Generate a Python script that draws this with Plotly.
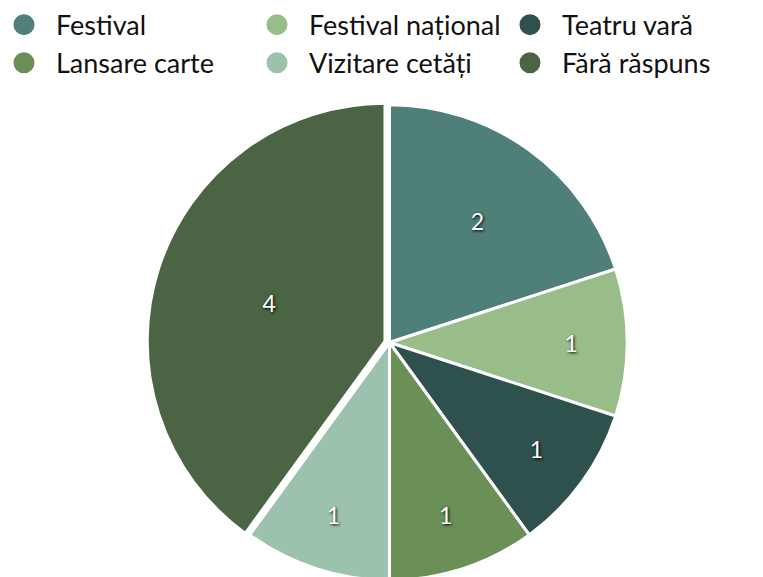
import plotly.graph_objects as go

labels = ["Festival", "Festival național", "Teatru vară", "Lansare carte", "Vizitare cetăți", "Fără răspuns"]
values = [2, 1, 1, 1, 1, 4]
colors = ["#4e7f78", "#98bd89", "#2e514e", "#6a8f57", "#9cc2ad", "#4a6444"]
pulls = [0, 0, 0, 0, 0, 0.02]

fig = go.Figure()
fig.add_trace(go.Pie(
    labels=labels, values=values, sort=False, direction="clockwise", rotation=0,
    marker=dict(colors=colors, line=dict(color="white", width=3)),
    pull=pulls, textinfo="value", textposition="inside",
    insidetextorientation="horizontal",
    textfont=dict(color="white", size=23, family="Lato", shadow="1px 1px 3px #000"),
    showlegend=False, hoverinfo="label+value+percent",
))
for lab, col in zip(labels, colors):
    fig.add_trace(go.Scatter(
        x=[None], y=[None], mode="markers", name=lab,
        marker=dict(size=16, color=col, symbol="circle", line=dict(width=5, color=col)),
        showlegend=True,
    ))

fig.update_layout(
    width=763, height=577,
    margin=dict(l=0, r=0, t=92, b=0, autoexpand=False),
    paper_bgcolor="white", plot_bgcolor="white",
    xaxis=dict(visible=False), yaxis=dict(visible=False),
    legend=dict(
        orientation="h", xref="paper", yref="paper", x=-0.021, y=1.205,
        xanchor="left", yanchor="top", bgcolor="rgba(0,0,0,0)",
        font=dict(family="Lato", size=27, color="#111"),
        entrywidth=184, entrywidthmode="pixels", itemsizing="trace", itemwidth=54,
    ),
)
fig.write_html("out.html")
